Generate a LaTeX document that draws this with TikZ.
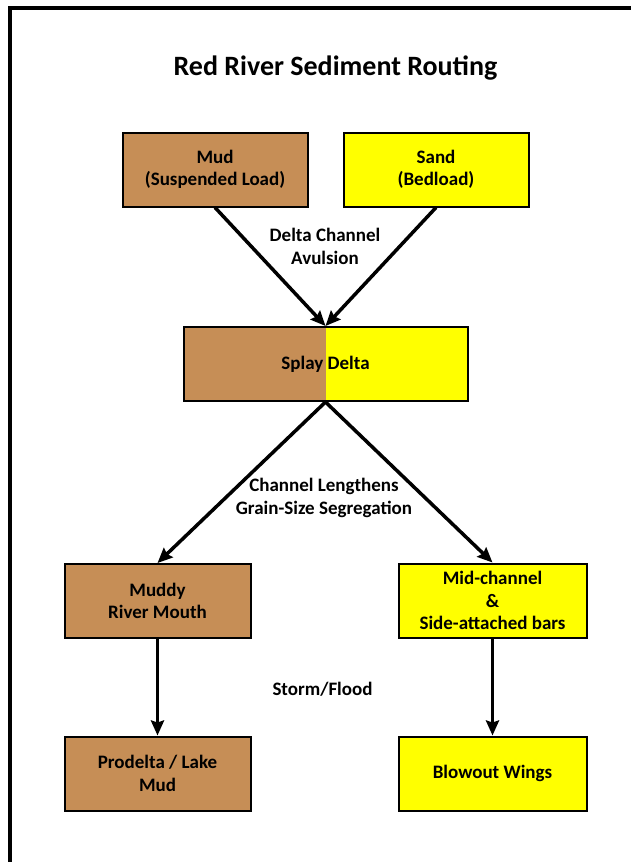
\documentclass[tikz,border=0pt]{standalone}
\usepackage{fontspec}
\setmainfont{Carlito}
\usepackage{tikz}
\usetikzlibrary{arrows.meta,positioning}

\definecolor{mudtan}{RGB}{198,142,86}
\definecolor{sandyellow}{RGB}{255,255,0}

\begin{document}
\begin{tikzpicture}[x=1pt, y=-1pt,
    font=\fontsize{19}{22.5}\selectfont\bfseries,
    box/.style={draw=black, line width=2pt, align=center, minimum width=185pt, minimum height=74pt, inner sep=2pt},
    mudbox/.style={box, fill=mudtan},
    sandbox/.style={box, fill=sandyellow},
    flow/.style={line width=3.5pt, -{Stealth[length=15pt, width=13pt, inset=2pt]}},
    note/.style={align=center, inner sep=0pt}]
    \useasboundingbox (0,0) rectangle (631,862);

    % Frame (only left and top edges show)
    \draw[line width=4.5pt] (10,870) -- (10,8) -- (640,8);

    % Title
    \node[font=\fontsize{28}{32}\selectfont\bfseries] (title) at (335.5,68) {Red River Sediment Routing};

    % Sources
    \node[mudbox] (mud) at (215,169.5) {Mud\\(Suspended Load)};
    \node[sandbox] (sand) at (436,169.5) {Sand\\(Bedload)};

    % Splay delta, half mud / half sand
    \node[box, minimum width=284pt, path picture={
        \fill[mudtan] (path picture bounding box.north west) rectangle (path picture bounding box.south);
        \fill[sandyellow] (path picture bounding box.north) rectangle (path picture bounding box.south east);
    }] (splay) at (325.5,364) {Splay Delta};

    % Deposits
    \node[mudbox, minimum width=186pt] (muddy) at (157.5,601) {Muddy\\River Mouth};
    \node[sandbox, minimum width=188pt] (midbars) at (492.5,600.5) {Mid-channel\\\&\\Side-attached bars};
    \node[mudbox, minimum width=186pt] (prodelta) at (157.5,773.5) {Prodelta / Lake\\Mud};
    \node[sandbox, minimum width=188pt] (blowout) at (492.5,773.5) {Blowout Wings};

    % Process labels
    \node[note] (avulsion) at (325,246.5) {Delta Channel\\Avulsion};
    \node[note] (segregation) at (324,498) {Channel Lengthens\\Grain-Size Segregation};
    \node[note] (storm) at (322.5,689) {Storm/Flood};

    % Routing arrows
    \draw[flow] (mud.south) -- (splay.north);
    \draw[flow] (sand.south) -- (splay.north);
    \draw[flow] (splay.south) -- (muddy.north);
    \draw[flow] (splay.south) -- (midbars.north);
    \draw[flow] (muddy.south) -- (prodelta.north);
    \draw[flow] (midbars.south) -- (blowout.north);
\end{tikzpicture}
\end{document}
